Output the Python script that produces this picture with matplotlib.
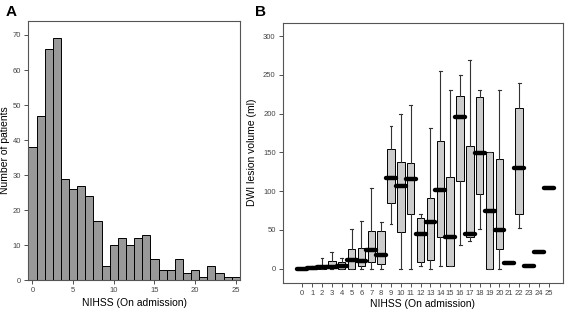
import matplotlib.pyplot as plt

plt.rcParams['font.family'] = ['Liberation Sans', 'DejaVu Sans']

# Panel A: histogram of NIHSS on admission
nihss = list(range(26))
n_patients = [38, 47, 66, 69, 29, 26, 27, 24, 17, 4, 10, 12, 10, 12, 13,
              6, 3, 3, 6, 2, 3, 1, 4, 2, 1, 1]

# Panel B: DWI lesion volume (ml) by NIHSS
whislo = [0, 0, 0, 0, 0, 0, 0, 0, 0, 58, 0, 0, 4, 0, 3, 3, 30, 36, 51, 0, 0, 7, 53, 3, 21, 104]
q1 = [0, 0, 0, 1, 0, 0, 3, 8, 6, 85, 47, 71, 8, 11, 41, 4, 113, 41, 96, 0, 25, 7, 70, 3, 21, 104]
med = [0, 0.5, 2, 2, 3, 11, 10, 24, 18, 117, 107, 115, 45, 60, 102, 41, 196, 45, 149, 75, 50, 7, 130, 3, 21, 104]
q3 = [1, 1, 4, 10, 9, 26, 27, 49, 48, 154, 137, 136, 65, 91, 164, 118, 223, 158, 222, 151, 141, 7, 207, 3, 21, 104]
whishi = [1, 3, 14, 22, 14, 51, 61, 104, 60, 184, 200, 211, 71, 182, 255, 230, 250, 269, 231, 151, 230, 7, 240, 3, 21, 104]

fig = plt.figure(figsize=(5.72, 3.13), dpi=100)
axA = fig.add_axes([0.049, 0.105, 0.371, 0.828])
axB = fig.add_axes([0.494, 0.097, 0.4895, 0.830])

frame = '#555555'
tick_kw = dict(labelsize=5.5, length=3, width=0.6, pad=2, colors='#333333', labelcolor='#444444')

axA.bar(nihss, n_patients, width=1.0, color='#999999', edgecolor='black', linewidth=0.7)
axA.set_xlim(-0.55, 25.55)
axA.set_ylim(0, 74)
axA.set_xticks(range(0, 26, 5))
axA.set_yticks(range(0, 71, 10))
axA.set_xlabel('NIHSS (On admission)', fontsize=7.5, labelpad=3)
axA.set_ylabel('Number of patients', fontsize=7.5, labelpad=2)
axA.tick_params(**tick_kw)

stats = []
for i in range(len(nihss)):
    stats.append(dict(med=med[i], q1=q1[i], q3=q3[i], whislo=whislo[i], whishi=whishi[i], fliers=[]))
parts = axB.bxp(stats, positions=nihss, widths=0.75, patch_artist=True, showfliers=False,
                capwidths=0.3,
                boxprops=dict(facecolor='#cccccc', edgecolor='black', linewidth=0.7),
                whiskerprops=dict(color='#333333', linewidth=0.8),
                capprops=dict(color='#333333', linewidth=0.8),
                medianprops=dict(color='black', linewidth=3.2, solid_capstyle='round'))
# median bars stick out past the boxes
for pos, ln in zip(nihss, parts['medians']):
    ln.set_xdata([pos - 0.5, pos + 0.5])
    ln.set_zorder(4)

axB.set_xlim(-2.0, 26.4)
axB.set_ylim(-18, 317)
axB.set_xticks(nihss)
axB.set_xticklabels([str(v) for v in nihss])
axB.set_yticks(range(0, 301, 50))
axB.set_xlabel('NIHSS (On admission)', fontsize=7.5, labelpad=2)
axB.set_ylabel('DWI lesion volume (ml)', fontsize=7.5, labelpad=4)
axB.tick_params(**tick_kw)

for ax in (axA, axB):
    for s in ax.spines.values():
        s.set_color(frame)
        s.set_linewidth(0.8)

fig.text(0.009, 0.963, 'A', fontsize=11, fontweight='bold', va='center')
fig.text(0.446, 0.963, 'B', fontsize=11, fontweight='bold', va='center')

fig.savefig('out.png', dpi=100)
